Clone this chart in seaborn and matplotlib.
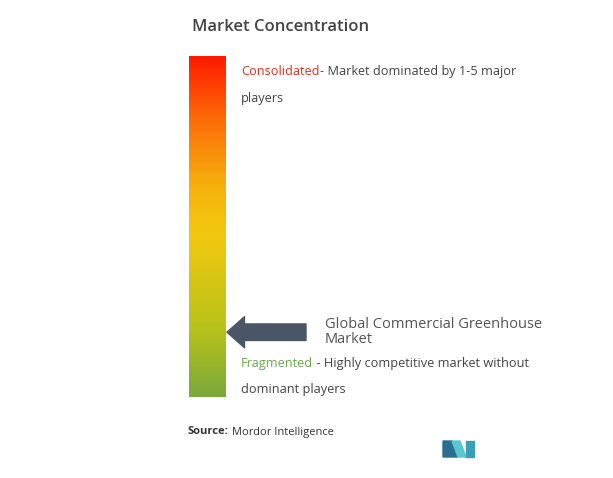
import numpy as np
import seaborn as sns
import matplotlib.pyplot as plt
from matplotlib.colors import LinearSegmentedColormap
from matplotlib.patches import Polygon

# data
scale_colors = ["#7aa83a", "#b8c21a", "#f2c80f", "#f5b00c", "#fb6a08", "#ff1a00"]
scale_stops = [0.0, 0.2, 0.48, 0.62, 0.82, 1.0]
market_name = "Global Commercial Greenhouse\nMarket"
market_position = 0.19  # fraction of bar height from bottom
title = "Market Concentration"
top_label = ("Consolidated", "- Market dominated by 1-5 major", "players")
bottom_label = ("Fragmented", " - Highly competitive market without", "dominant players")

W, H = 613, 478
fig = plt.figure(figsize=(W / 100, H / 100), dpi=100)
ax = fig.add_axes([0, 0, 1, 1])
ax.set_xlim(0, W)
ax.set_ylim(H, 0)
ax.axis("off")

# gradient bar
bx0, bx1, by0, by1 = 189, 226, 56, 397
bar_ax = fig.add_axes([bx0 / W, 1 - by1 / H, (bx1 - bx0) / W, (by1 - by0) / H])
cmap = LinearSegmentedColormap.from_list("conc", list(zip(scale_stops, scale_colors)))
grad = np.linspace(1, 0, 300).reshape(-1, 1)
sns.heatmap(grad, cmap=cmap, cbar=False, ax=bar_ax, xticklabels=False, yticklabels=False)
bar_ax.axis("off")

font = "Open Sans"
fs = 9.2
ax.text(192, 27, title, fontsize=12, color="#444444", family=font, va="center", weight="semibold")


def label_pair(y, head, tail, color):
    t = ax.text(241, y, head, fontsize=fs, color=color, family=font, va="center")
    ax.annotate(tail, xy=(1, 0.5), xycoords=t, va="center", ha="left",
                fontsize=fs, color="#444444", family=font)


label_pair(71, top_label[0], top_label[1], "#e0301e")
ax.text(241, 98, top_label[2], fontsize=fs, color="#444444", family=font, va="center")
label_pair(363, bottom_label[0], bottom_label[1], "#6aa84f")
ax.text(241, 389, bottom_label[2], fontsize=fs, color="#444444", family=font, va="center")

# arrow pointing to market position
ay = by1 - market_position * (by1 - by0)
ax.annotate("", xy=(227, ay), xytext=(306, ay),
            arrowprops=dict(arrowstyle="simple,head_width=1.6,head_length=0.9,tail_width=0.85",
                            color="#4a5566", shrinkA=0, shrinkB=0, mutation_scale=14))
ax.text(325, 332, market_name, fontsize=10.5, color="#555555", family=font, va="center",
        linespacing=0.95)

src = ax.text(188, 432, "Source:", fontsize=8, color="#333333", family=font, va="center",
              weight="bold")
ax.annotate(" Mordor Intelligence", xy=(1, 0.5), xycoords=src, va="center", ha="left",
            fontsize=8, color="#333333", family=font)

# logo
ax.add_patch(Polygon([(443, 457), (443, 441), (452, 441), (458, 457)], color="#2a6f8f"))
ax.add_patch(Polygon([(452, 441), (460, 441), (466, 457), (458, 457)], color="#5bc6d0"))
ax.add_patch(Polygon([(466, 441), (474, 441), (474, 457), (466, 457)], color="#3a9fb5"))

fig.savefig("out.png", dpi=100)
